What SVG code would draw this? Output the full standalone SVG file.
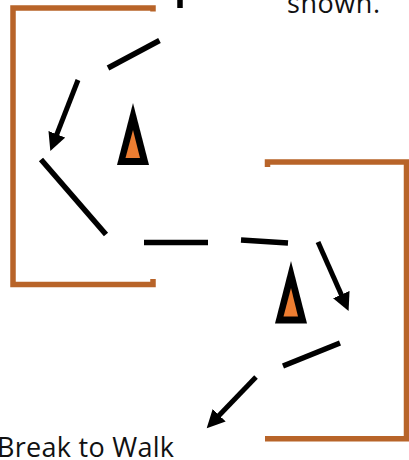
<svg xmlns="http://www.w3.org/2000/svg" width="409" height="460" viewBox="0 0 409 460">
<style>
.b{fill:none;stroke:#b86429;stroke-width:5.5;stroke-linejoin:miter}
.c{fill:none;stroke:#000;stroke-width:5.5}
.a{fill:none;stroke:#000;stroke-width:5}
.o{fill:#000}
.i{fill:#ed7d31}
text{font-family:"Open Sans","Noto Sans",sans-serif;font-size:27px;fill:#111}
</style>
<defs>
<marker id="h" markerUnits="userSpaceOnUse" markerWidth="22" markerHeight="22" refX="1" refY="9" orient="auto">
<path d="M0,0L18,9L0,18Z" fill="#000"/>
</marker>
</defs>
<rect width="409" height="460" fill="#fff"/>
<g id="bracket-left"><path class="b" d="M153,11.500V8H13V284.500H153V279"/></g>
<g id="bracket-right"><path class="b" d="M267.500,167V162H406.500V438.700H265"/></g>
<g id="connectors">
<path class="c" d="M180,0V8"/>
<path class="c" d="M159.500,40.500L108,68"/>
<path class="a" d="M78,80L56.500,135.200" marker-end="url(#h)"/>
<path class="c" d="M41,159.500L106,234.500"/>
<path class="c" d="M144,242.500H208"/>
<path class="c" d="M241,240L288,243"/>
<path class="a" d="M318,242L341.700,295.500" marker-end="url(#h)"/>
<path class="c" d="M340,343L283,366"/>
<path class="a" d="M256,377L218.500,416" marker-end="url(#h)"/>
</g>
<g id="marker-1"><path class="o" d="M133,103L149,165H117Z"/><path class="i" d="M133,130L140,158H125.500Z"/></g>
<g id="marker-2"><path class="o" d="M291,261L307,323.500H275Z"/><path class="i" d="M291,288L298,316.500H283.500Z"/></g>
<g id="labels">
<text x="287" y="13" textLength="93" lengthAdjust="spacing">shown.</text>
<text x="-3" y="457" textLength="177" lengthAdjust="spacing">Break to Walk</text>
</g>
</svg>
